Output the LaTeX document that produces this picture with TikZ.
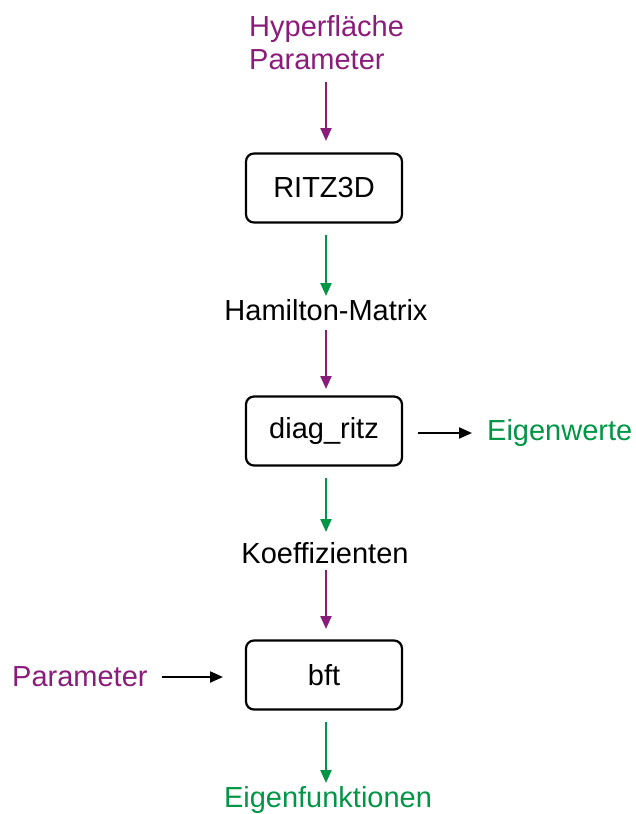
\documentclass[tikz,border=0pt]{standalone}
\usepackage{fontspec}
\setmainfont{Liberation Sans}
\usetikzlibrary{arrows.meta}
\definecolor{lila}{RGB}{138,28,122}
\definecolor{gruen}{RGB}{0,150,70}
\tikzset{
  box/.style={draw=black, line width=2.2pt, rounded corners=8pt, minimum width=156pt, minimum height=69pt, inner sep=0pt},
  lbl/.style={inner sep=0pt, font=\fontsize{29}{33}\selectfont},
  arr/.style={line width=2.2pt, -{Triangle[length=13pt,width=11pt]}},
}
\begin{document}
\begin{tikzpicture}[x=1pt,y=-1pt]
\useasboundingbox (0,0) rectangle (636,814);
\node[lbl, text=lila, align=left, anchor=west] (hyp) at (249,43) {Hyperfläche\\Parameter};
\node[box, lbl] (ritz) at (324,188) {RITZ3D};
\node[lbl] (ham) at (326,310) {Hamilton-Matrix};
\node[box, lbl] (diag) at (324,431) {diag\_ritz};
\node[lbl, text=gruen, anchor=west] (ew) at (487,433) {Eigenwerte};
\node[lbl] (koef) at (325,553) {Koeffizienten};
\node[box, lbl] (bft) at (324,675) {bft};
\node[lbl, text=lila, anchor=west] (par) at (12,677) {Parameter};
\node[lbl, text=gruen] (eig) at (328,800) {Eigenfunktionen};
\coordinate (a1s) at (326,82); \coordinate (a1e) at (326,141);
\draw[arr, lila] (a1s) -- (a1e);
\coordinate (a2s) at (326,235); \coordinate (a2e) at (326,296);
\draw[arr, gruen] (a2s) -- (a2e);
\coordinate (a3s) at (326,330); \coordinate (a3e) at (326,389);
\draw[arr, lila] (a3s) -- (a3e);
\coordinate (a4s) at (326,478); \coordinate (a4e) at (326,532);
\draw[arr, gruen] (a4s) -- (a4e);
\coordinate (a5s) at (326,570); \coordinate (a5e) at (326,629);
\draw[arr, lila] (a5s) -- (a5e);
\coordinate (a6s) at (326,722); \coordinate (a6e) at (326,783);
\draw[arr, gruen] (a6s) -- (a6e);
\coordinate (b1s) at (418,433); \coordinate (b1e) at (472,433);
\draw[arr, black] (b1s) -- (b1e);
\coordinate (b2s) at (162,677); \coordinate (b2e) at (223,677);
\draw[arr, black] (b2s) -- (b2e);
\end{tikzpicture}
\end{document}
